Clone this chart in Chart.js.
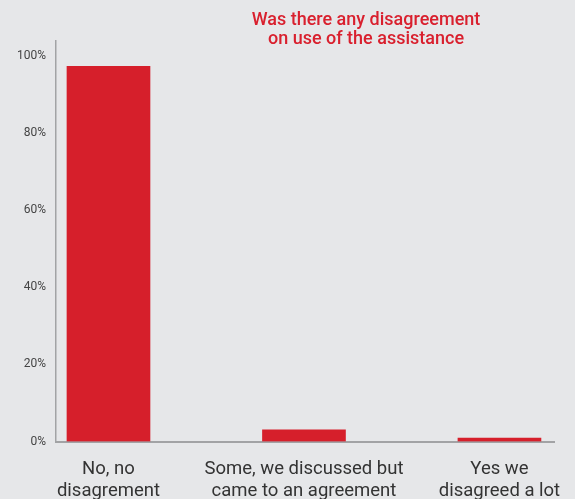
<!DOCTYPE html>
<html>
<head>
<meta charset="utf-8">
<script src="https://cdn.jsdelivr.net/npm/chart.js@4"></script>
<style>
  html, body { margin: 0; padding: 0; background: #e6e7e9; }
  #wrap { width: 575px; height: 499px; }
</style>
</head>
<body>
<div id="wrap"><canvas id="c" width="575" height="499"></canvas></div>
<script>
// Answer categories (multi-line labels) and share of respondents (%)
const categories = [
  ['No, no', 'disagrement'],
  ['Some, we discussed but', 'came to an agreement'],
  ['Yes we', 'disagreed a lot']
];
const shares = [97.4, 3.0, 0.9];
const yTicks = [0, 20, 40, 60, 80, 100];
const titleLines = ['Was there any disagreement', 'on use of the assistance'];

const RED = '#d61f2b';
const BG = '#e6e7e9';

const background = {
  id: 'background',
  beforeDraw(chart) {
    const { ctx, width, height } = chart;
    ctx.save();
    ctx.fillStyle = BG;
    ctx.fillRect(0, 0, width, height);
    ctx.restore();
  }
};

// Two-line heading, set to the right of centre above the plot
const heading = {
  id: 'heading',
  afterDraw(chart) {
    const { ctx } = chart;
    ctx.save();
    ctx.fillStyle = '#d9202e';
    ctx.font = '500 18px Roboto';
    ctx.textAlign = 'center';
    ctx.textBaseline = 'middle';
    titleLines.forEach((line, i) => ctx.fillText(line, 366, 20 + i * 19.5));
    ctx.restore();
  }
};

new Chart(document.getElementById('c'), {
  type: 'bar',
  data: {
    datasets: [{
      data: shares.map((v, i) => ({ x: i, y: v })),
      backgroundColor: RED,
      borderWidth: 0,
      barThickness: 83
    }]
  },
  options: {
    responsive: false,
    animation: false,
    devicePixelRatio: 1,
    layout: { padding: { top: 41, right: 21, left: 0, bottom: 0 } },
    plugins: {
      legend: { display: false },
      tooltip: { enabled: false },
      title: { display: false }
    },
    scales: {
      x: {
        type: 'linear',
        offset: false,
        min: -0.2685,
        max: 2.279,
        afterBuildTicks(scale) {
          scale.ticks = categories.map((_, i) => ({ value: i }));
        },
        afterFit(scale) {
          scale.height = 57.5;
          scale.paddingLeft = 0;
          scale.paddingRight = 0;
        },
        grid: { display: false, drawTicks: false },
        border: { display: true, color: '#a2a3a5', width: 2 },
        ticks: {
          autoSkip: false,
          maxRotation: 0,
          padding: 17,
          color: '#333333',
          font: { family: 'Roboto', size: 18.5, lineHeight: 1.2 },
          callback: (v) => categories[v]
        }
      },
      y: {
        min: 0,
        max: 104,
        afterBuildTicks(scale) {
          scale.ticks = yTicks.map(v => ({ value: v }));
        },
        afterFit(scale) {
          scale.width = 56;
          scale.paddingTop = 0;
          scale.paddingBottom = 0;
        },
        grid: { display: false, drawTicks: false },
        border: { display: true, color: '#a2a3a5', width: 1.5 },
        ticks: {
          padding: 10,
          color: '#444444',
          font: { family: 'Roboto', size: 12 },
          callback: (v) => v + '%'
        }
      }
    }
  },
  plugins: [background, heading]
});
</script>
</body>
</html>
